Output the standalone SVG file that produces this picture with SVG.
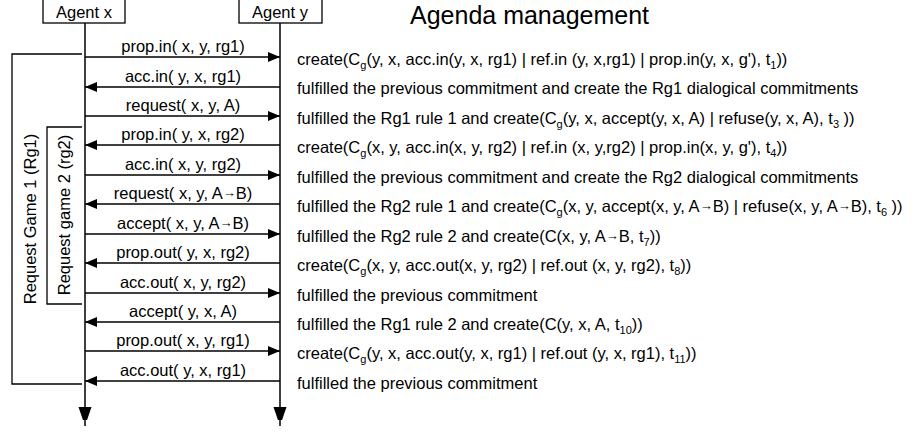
<svg xmlns="http://www.w3.org/2000/svg" width="917" height="432" viewBox="0 0 917 432">
  <style>
    text { font-family: "Liberation Sans", Arial, sans-serif; fill: #000; }
    .agent { font-size: 16.5px; text-anchor: middle; }
    .title { font-size: 25px; }
    .msg { font-size: 16.5px; text-anchor: middle; }
    .note { font-size: 16.5px; }
    .game { font-size: 16.5px; text-anchor: middle; }
    .sub { font-size: 11px; }
    .ar { font-size: 13px; baseline-shift: 2px; }
    .box { fill: #fff; stroke: #000; stroke-width: 1.3; }
    .frame { fill: none; stroke: #000; stroke-width: 1.3; }
    .life { stroke: #000; stroke-width: 1.5; fill: none; }
    .arrow { stroke: #000; stroke-width: 1.5; fill: none; marker-end: url(#head); }
  </style>
  <defs>
    <marker id="head" markerUnits="userSpaceOnUse" markerWidth="12" markerHeight="10" refX="12" refY="5" orient="auto">
      <path d="M0,0 L12,5 L0,10 Z" fill="#000"/>
    </marker>
    <marker id="lifehead" markerUnits="userSpaceOnUse" markerWidth="13" markerHeight="20" refX="19" refY="6.5" orient="auto">
      <path d="M0,0 L19,6.5 L0,13 Z" fill="#000"/>
    </marker>
  </defs>
  <rect width="917" height="432" fill="#fff"/>

  <text class="title" x="410" y="24">Agenda management</text>

  <!-- interaction frames -->
  <g id="game1">
    <path class="frame" d="M82,54 H12 V384 H82"/>
    <text class="game" transform="translate(36,219) rotate(-90)">Request Game 1 (Rg1)</text>
  </g>
  <g id="game2">
    <path class="frame" d="M82,127 H47 V304 H82"/>
    <text class="game" transform="translate(70,215) rotate(-90)">Request game 2 (rg2)</text>
  </g>

  <!-- agents and lifelines -->
  <g id="agent-x">
    <rect class="box" x="43" y="-2" width="82" height="25"/>
    <text class="agent" x="84" y="18">Agent x</text>
    <line class="life" x1="85" y1="23" x2="85" y2="426" marker-end="url(#lifehead)"/>
  </g>
  <g id="agent-y">
    <rect class="box" x="239" y="-2" width="83" height="25"/>
    <text class="agent" x="280" y="18">Agent y</text>
    <line class="life" x1="280" y1="23" x2="280" y2="426" marker-end="url(#lifehead)"/>
  </g>

  <!-- messages -->
  <g id="connectors">
    <line class="arrow" x1="85" y1="57" x2="280" y2="57"/>
    <line class="arrow" x1="280" y1="87" x2="85" y2="87"/>
    <line class="arrow" x1="85" y1="116" x2="280" y2="116"/>
    <line class="arrow" x1="280" y1="145" x2="85" y2="145"/>
    <line class="arrow" x1="85" y1="175" x2="280" y2="175"/>
    <line class="arrow" x1="280" y1="204" x2="85" y2="204"/>
    <line class="arrow" x1="85" y1="234" x2="280" y2="234"/>
    <line class="arrow" x1="280" y1="263" x2="85" y2="263"/>
    <line class="arrow" x1="85" y1="293" x2="280" y2="293"/>
    <line class="arrow" x1="280" y1="322" x2="85" y2="322"/>
    <line class="arrow" x1="85" y1="351" x2="280" y2="351"/>
    <line class="arrow" x1="280" y1="381" x2="85" y2="381"/>
  </g>

  <g id="message-labels">
    <text class="msg" x="183" y="52">prop.in( x, y, rg1)</text>
    <text class="msg" x="183" y="82">acc.in( y, x, rg1)</text>
    <text class="msg" x="183" y="111">request( x, y, A)</text>
    <text class="msg" x="183" y="140">prop.in( y, x, rg2)</text>
    <text class="msg" x="183" y="170">acc.in( x, y, rg2)</text>
    <text class="msg" x="183" y="199">request( x, y, A<tspan class="ar">→</tspan>B)</text>
    <text class="msg" x="183" y="229">accept( x, y, A<tspan class="ar">→</tspan>B)</text>
    <text class="msg" x="183" y="258">prop.out( y, x, rg2)</text>
    <text class="msg" x="183" y="288">acc.out( x, y, rg2)</text>
    <text class="msg" x="183" y="317">accept( y, x, A)</text>
    <text class="msg" x="183" y="346">prop.out( x, y, rg1)</text>
    <text class="msg" x="183" y="376">acc.out( y, x, rg1)</text>
  </g>

  <!-- agenda notes -->
  <g id="agenda">
    <text class="note" x="297" y="65">create(C<tspan class="sub" dy="4">g</tspan><tspan dy="-4">(y, x, acc.in(y, x, rg1) | ref.in (y, x,rg1) | prop.in(y, x, g'), t</tspan><tspan class="sub" dy="4">1</tspan><tspan dy="-4">))</tspan></text>
    <text class="note" x="297" y="94">fulfilled the previous commitment and create the Rg1 dialogical commitments</text>
    <text class="note" x="297" y="124">fulfilled the Rg1 rule 1 and create(C<tspan class="sub" dy="4">g</tspan><tspan dy="-4">(y, x, accept(y, x, A) | refuse(y, x, A), t</tspan><tspan class="sub" dy="4">3</tspan><tspan dy="-4"> ))</tspan></text>
    <text class="note" x="297" y="153">create(C<tspan class="sub" dy="4">g</tspan><tspan dy="-4">(x, y, acc.in(x, y, rg2) | ref.in (x, y,rg2) | prop.in(x, y, g'), t</tspan><tspan class="sub" dy="4">4</tspan><tspan dy="-4">))</tspan></text>
    <text class="note" x="297" y="183">fulfilled the previous commitment and create the Rg2 dialogical commitments</text>
    <text class="note" x="297" y="212">fulfilled the Rg2 rule 1 and create(C<tspan class="sub" dy="4">g</tspan><tspan dy="-4">(x, y, accept(x, y, A</tspan><tspan class="ar">→</tspan>B) | refuse(x, y, A<tspan class="ar">→</tspan>B), t<tspan class="sub" dy="4">6</tspan><tspan dy="-4"> ))</tspan></text>
    <text class="note" x="297" y="242">fulfilled the Rg2 rule 2 and create(C(x, y, A<tspan class="ar">→</tspan>B, t<tspan class="sub" dy="4">7</tspan><tspan dy="-4">))</tspan></text>
    <text class="note" x="297" y="271">create(C<tspan class="sub" dy="4">g</tspan><tspan dy="-4">(x, y, acc.out(x, y, rg2) | ref.out (x, y, rg2), t</tspan><tspan class="sub" dy="4">8</tspan><tspan dy="-4">))</tspan></text>
    <text class="note" x="297" y="301">fulfilled the previous commitment</text>
    <text class="note" x="297" y="330">fulfilled the Rg1 rule 2 and create(C(y, x, A, t<tspan class="sub" dy="4">10</tspan><tspan dy="-4">))</tspan></text>
    <text class="note" x="297" y="359">create(C<tspan class="sub" dy="4">g</tspan><tspan dy="-4">(y, x, acc.out(y, x, rg1) | ref.out (y, x, rg1), t</tspan><tspan class="sub" dy="4">11</tspan><tspan dy="-4">))</tspan></text>
    <text class="note" x="297" y="389">fulfilled the previous commitment</text>
  </g>
</svg>
